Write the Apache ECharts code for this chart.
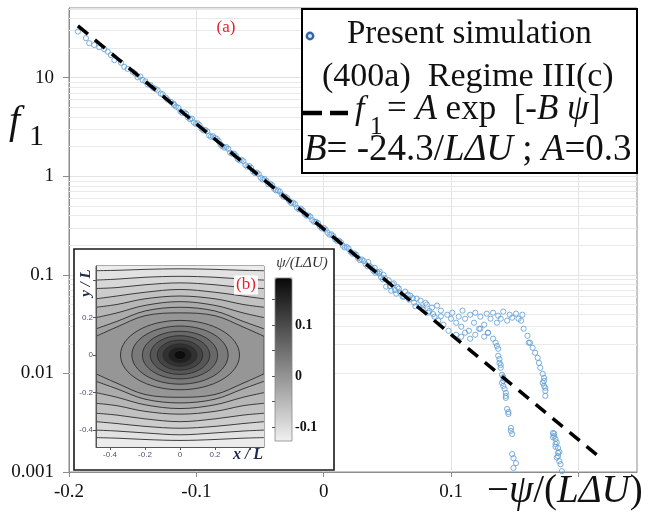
<!DOCTYPE html>
<html><head><meta charset="utf-8">
<script src="https://cdn.jsdelivr.net/npm/echarts@6/dist/echarts.min.js"></script>
<style>html,body{margin:0;padding:0;background:#fff}#c{width:648px;height:513px}</style>
</head><body><div id="c"></div>
<script>
// ---------------- main panel data ----------------
const xTickValues = [-0.2, -0.1, 0, 0.1, 0.2];
const xLabelValues = [-0.2, -0.1, 0, 0.1];
const fitLine = [[-0.193, 33.6], [0.217, 0.0014]];   // f1 = A exp[-B psi]
const simNearTop = [[-0.193,29.4],[-0.1867,25.2],[-0.1841,22.4],[-0.1802,21.5],[-0.1762,20.4],[-0.1723,19.5],[-0.1696,18.4],[-0.1671,17.0],[-0.1644,15.1],[-0.1592,14.2],[-0.1566,12.9],[-0.154,12.3],[-0.150,11.5],[-0.148,11.0],[-0.1461,10.1],[-0.144,10.3],[-0.1422,9.5],[-0.140,9.2],[-0.1383,8.6],[-0.136,8.4],[-0.134,7.9],[-0.132,7.7],[-0.1304,7.5],[-0.128,6.9],[-0.1265,6.8],[-0.124,6.3],[-0.1226,6.0],[-0.120,5.7],[-0.118,5.45],[-0.1174,5.3],[-0.116,5.1]];
const simBodyA = [[-0.114,4.95],[-0.111,4.40],[-0.108,4.30],[-0.105,3.80],[-0.102,3.52],[-0.099,3.45],[-0.096,3.05],[-0.093,2.95],[-0.090,2.60],[-0.087,2.55],[-0.084,2.40],[-0.081,2.10],[-0.078,1.95],[-0.075,1.90],[-0.072,1.70],[-0.069,1.62],[-0.066,1.45],[-0.063,1.42],[-0.060,1.25],[-0.057,1.22],[-0.054,1.08],[-0.051,1.05],[-0.048,0.93],[-0.045,0.90],[-0.042,0.84],[-0.039,0.75],[-0.036,0.72],[-0.033,0.65],[-0.030,0.62],[-0.027,0.56],[-0.024,0.54],[-0.021,0.48],[-0.018,0.47],[-0.015,0.415],[-0.012,0.40],[-0.009,0.36],[-0.006,0.345],[-0.003,0.31],[0.000,0.30],[0.003,0.268],[0.006,0.258],[0.009,0.230],[0.012,0.222],[0.015,0.198],[0.018,0.192],[0.021,0.172],[0.024,0.165],[0.027,0.148],[0.030,0.143],[0.033,0.128],[0.036,0.123],[0.039,0.110],[0.042,0.107],[0.045,0.095],[0.048,0.092]];
const simBodyB = [[-0.1125,4.55],[-0.1095,4.45],[-0.1065,3.95],[-0.1035,3.85],[-0.1005,3.40],[-0.0975,3.30],[-0.0945,2.92],[-0.0915,2.85],[-0.0885,2.52],[-0.0855,2.45],[-0.0825,2.28],[-0.0795,2.02],[-0.0765,1.98],[-0.0735,1.74],[-0.0705,1.70],[-0.0675,1.50],[-0.0645,1.47],[-0.0615,1.30],[-0.0585,1.27],[-0.0555,1.12],[-0.0525,1.09],[-0.0495,0.97],[-0.0465,0.94],[-0.0435,0.83],[-0.0405,0.81],[-0.0375,0.72],[-0.0345,0.70],[-0.0315,0.62],[-0.0285,0.60],[-0.0255,0.535],[-0.0225,0.52],[-0.0195,0.462],[-0.0165,0.45],[-0.0135,0.40],[-0.0105,0.39],[-0.0075,0.345],[-0.0045,0.335],[-0.0015,0.296],[0.0015,0.288],[0.0045,0.256],[0.0075,0.248],[0.0105,0.221],[0.0135,0.214],[0.0165,0.190],[0.0195,0.185],[0.0225,0.164],[0.0255,0.160],[0.0285,0.141],[0.0315,0.138],[0.0345,0.122],[0.0375,0.119],[0.0405,0.105],[0.0435,0.103],[0.0465,0.090]];
const simTransition = [[0.035,0.135],[0.040,0.118],[0.044,0.108],[0.047,0.100],[0.051,0.088],[0.055,0.082],[0.058,0.075],[0.052,0.077],[0.056,0.070],[0.060,0.066],[0.063,0.060],[0.066,0.063],[0.070,0.058],[0.072,0.048],[0.077,0.046],[0.080,0.052],[0.083,0.043],[0.086,0.040],[0.092,0.038],[0.049,0.076],[0.053,0.069],[0.054,0.080],[0.057,0.0645],[0.059,0.0726],[0.062,0.0601],[0.064,0.0676],[0.067,0.0561],[0.068,0.0615],[0.071,0.0523],[0.073,0.0574],[0.075,0.0476],[0.076,0.0548],[0.078,0.0444],[0.081,0.0499],[0.082,0.0413],[0.085,0.0465],[0.087,0.0377],[0.089,0.0488],[0.090,0.0343],[0.092,0.0434],[0.094,0.0312],[0.097,0.0394],[0.098,0.0271]];
const simPlateauUpper = [[0.100,0.0359],[0.101,0.0413],[0.104,0.0327],[0.106,0.0377],[0.108,0.0298],[0.109,0.0434],[0.111,0.0359],[0.114,0.0271],[0.115,0.0394],[0.118,0.0327],[0.119,0.0413],[0.122,0.0284],[0.123,0.0377],[0.126,0.0312],[0.128,0.0404],[0.129,0.0259],[0.131,0.0359],[0.133,0.0413],[0.136,0.0327],[0.137,0.0385],[0.139,0.0359],[0.141,0.0424],[0.144,0.0343],[0.146,0.0394],[0.148,0.0368],[0.151,0.0404],[0.153,0.0359],[0.155,0.0343],[0.156,0.0394]];
const simPlateauLower = [[0.104,0.0247],[0.108,0.0236],[0.111,0.0259],[0.115,0.0225],[0.119,0.0247],[0.123,0.0284],[0.126,0.0236],[0.129,0.0259],[0.133,0.0225],[0.135,0.0205]];
const simBranchLeft = [[0.136,0.019],[0.137,0.0178],[0.137,0.0151],[0.138,0.0140],[0.138,0.0128],[0.139,0.0122],[0.139,0.0114],[0.140,0.00968],[0.141,0.0092],[0.141,0.00841],[0.140,0.00802],[0.141,0.00748],[0.142,0.00698],[0.143,0.00635],[0.143,0.00592],[0.143,0.00565],[0.144,0.00436],[0.145,0.00406],[0.145,0.00388],[0.147,0.00280],[0.147,0.00261],[0.148,0.00243],[0.148,0.00152],[0.149,0.00138],[0.151,0.00123],[0.149,0.00110]];
const simBranchRight = [[0.157,0.0284],[0.160,0.0241],[0.161,0.0205],[0.162,0.0205],[0.164,0.0182],[0.166,0.0162],[0.168,0.0144],[0.169,0.0128],[0.170,0.0114],[0.172,0.00991],[0.173,0.00902],[0.173,0.00841],[0.172,0.00802],[0.173,0.00748],[0.174,0.00714],[0.174,0.00665],[0.174,0.00592],[0.180,0.00249],[0.181,0.00232],[0.182,0.00216],[0.182,0.00192],[0.184,0.00175],[0.184,0.00156],[0.184,0.00145],[0.185,0.00129],[0.186,0.00120],[0.187,0.00102],[0.181,0.00245],[0.180,0.00225],[0.183,0.0020],[0.182,0.0018],[0.185,0.0016],[0.183,0.0014]];

// ---------------- inset (b) data ----------------
const insetXs = [-0.48, -0.36, -0.2, 0, 0.2, 0.36, 0.48];
const openTop = [
  [0.10,0.15,0.21,0.225,0.21,0.15,0.10],
  [0.14,0.18,0.235,0.255,0.235,0.18,0.14],
  [0.20,0.225,0.265,0.285,0.265,0.225,0.20],
  [0.255,0.27,0.30,0.315,0.30,0.27,0.255],
  [0.30,0.315,0.335,0.35,0.335,0.315,0.30],
  [0.355,0.36,0.375,0.385,0.375,0.36,0.355],
  [0.40,0.405,0.415,0.42,0.415,0.405,0.40],
  [0.45,0.452,0.457,0.46,0.457,0.452,0.45]
];
const openTopPsi = [-0.01,-0.025,-0.04,-0.055,-0.07,-0.085,-0.10,-0.115];
const openBottom = [
  [-0.10,-0.15,-0.21,-0.225,-0.21,-0.15,-0.10],
  [-0.14,-0.18,-0.235,-0.255,-0.235,-0.18,-0.14],
  [-0.20,-0.225,-0.265,-0.285,-0.265,-0.225,-0.20],
  [-0.257,-0.27,-0.30,-0.315,-0.30,-0.27,-0.257],
  [-0.31,-0.32,-0.34,-0.355,-0.34,-0.32,-0.31],
  [-0.355,-0.365,-0.38,-0.39,-0.38,-0.365,-0.355],
  [-0.40,-0.405,-0.415,-0.425,-0.415,-0.405,-0.40],
  [-0.44,-0.443,-0.45,-0.455,-0.45,-0.443,-0.44]
];
const openBottomPsi = [-0.01,-0.025,-0.04,-0.055,-0.07,-0.085,-0.10,-0.115];
// closed contours of the eye: cx, cy, rx, ry, psi
const eyeContours = [
  [0,0,0.34,0.185,0.01],
  [0,0,0.275,0.155,0.035],
  [0,0,0.215,0.127,0.06],
  [0,0,0.17,0.103,0.085],
  [0,0,0.13,0.08,0.11],
  [0,0,0.097,0.06,0.135],
  [0,0,0.066,0.042,0.16],
  [0,0,0.035,0.024,0.185]
];
const insetLabelValues = [-0.4, -0.2, 0, 0.2];
const insetTickValues = [-0.4, -0.2, 0, 0.2, 0.4];
const psiRange = [-0.127, 0.192];
const colorbarLabels = [-0.1, 0, 0.1];
const colorbarTicks = [-0.1, -0.05, 0, 0.05, 0.1, 0.15];

// ---------------- rendering ----------------
const serif = '"Liberation Serif", "Times New Roman", serif';
const grayLight = 240, grayDark = 8;
function grayFor(psi) {
  const t = Math.max(0, Math.min(1, (psi - psiRange[0]) / (psiRange[1] - psiRange[0])));
  const g = Math.round(grayLight - (grayLight - grayDark) * t);
  return 'rgb(' + g + ',' + g + ',' + g + ')';
}
const minorVals = [];
[0.001, 0.01, 0.1, 1, 10].forEach(d => { for (let k = 2; k <= 9; k++) { const v = +(d * k).toPrecision(3); if (v <= 51) minorVals.push(v); } });

const simAll = [].concat(simNearTop, simBodyA, simBodyB, simTransition, simPlateauUpper, simPlateauLower, simBranchLeft, simBranchRight);

const series = [];
series.push({ type: 'line', xAxisIndex: 0, yAxisIndex: 0, data: [], z: 1, silent: true,
  markLine: { silent: true, z: 1, symbol: 'none', animation: false, label: { show: false },
    lineStyle: { color: '#e9e9e9', width: 1, type: 'solid' },
    data: minorVals.map(v => ({ yAxis: v })) } });
series.push({ type: 'scatter', xAxisIndex: 0, yAxisIndex: 0, data: simAll, symbol: 'circle', symbolSize: 5.2, z: 2,
  itemStyle: { color: 'rgba(255,255,255,0)', borderColor: '#5b9bd5', borderWidth: 1 } });
series.push({ type: 'line', xAxisIndex: 0, yAxisIndex: 0, data: fitLine, symbol: 'none', z: 3,
  lineStyle: { color: '#000', width: 3.5, type: [13, 9], cap: 'butt' } });

openTop.forEach((ys, i) => {
  const next = i + 1 < openTopPsi.length ? openTopPsi[i + 1] : psiRange[0];
  series.push({ type: 'line', xAxisIndex: 1, yAxisIndex: 1, smooth: 0.35, symbol: 'none', z: 4 + i * 0.01,
    data: insetXs.map((x, j) => [x, ys[j]]),
    lineStyle: { color: '#2b2b2b', width: 0.9 },
    areaStyle: { origin: 'end', color: grayFor((openTopPsi[i] + next) / 2), opacity: 1 } });
});
openBottom.forEach((ys, i) => {
  const next = i + 1 < openBottomPsi.length ? openBottomPsi[i + 1] : psiRange[0];
  series.push({ type: 'line', xAxisIndex: 1, yAxisIndex: 1, smooth: 0.35, symbol: 'none', z: 4 + i * 0.01,
    data: insetXs.map((x, j) => [x, ys[j]]),
    lineStyle: { color: '#2b2b2b', width: 0.9 },
    areaStyle: { origin: 'start', color: grayFor((openBottomPsi[i] + next) / 2), opacity: 1 } });
});
const eyeIndex = series.length;
series.push({ type: 'custom', xAxisIndex: 1, yAxisIndex: 1, z: 5, clip: true,
  dimensions: ['cx', 'cy', 'rx', 'ry', 'psi'], encode: { x: 0, y: 1 },
  data: eyeContours,
  renderItem: function (params, api) {
    const c = api.coord([api.value(0), api.value(1)]);
    const s = api.size([api.value(2), api.value(3)]);
    return { type: 'ellipse', shape: { cx: c[0], cy: c[1], rx: s[0], ry: s[1] },
      style: { fill: api.visual('color'), stroke: '#2b2b2b', lineWidth: 0.9 } };
  } });

const insetLabel = { fontSize: 8, color: '#4b5270', fontFamily: 'Liberation Sans, Arial, sans-serif' };
function txt(x, y, text, font, fill, extra) {
  return Object.assign({ type: 'text', z: 12, x: x, y: y, style: { text: text, font: font, fill: fill || '#111', verticalAlign: 'middle', textVerticalAlign: 'middle' } }, extra || {});
}
const richR = s => ({ fontFamily: serif, fontSize: s, fill: '#111', color: '#111' });
const richI = s => ({ fontFamily: serif, fontStyle: 'italic', fontSize: s, fill: '#111', color: '#111' });

const option = {
  animation: false,
  backgroundColor: '#ffffff',
  grid: [
    { left: 69, top: 8, width: 568, height: 464, show: true, borderColor: '#8c8c8c', borderWidth: 1, backgroundColor: 'transparent', containLabel: false, outerBoundsMode: 'none', z: 0 },
    { left: 96, top: 266, width: 168, height: 181, show: true, borderColor: '#555', borderWidth: 1, backgroundColor: grayFor(-0.003), containLabel: false, outerBoundsMode: 'none', z: 3 },
    { left: 275, top: 278, width: 17, height: 163, show: true, borderColor: '#888', borderWidth: 0.8, backgroundColor: 'transparent', containLabel: false, outerBoundsMode: 'none', z: 8 }
  ],
  xAxis: [
    { gridIndex: 0, type: 'value', min: -0.2, max: 0.246, interval: 0.1, z: 0,
      axisLine: { show: true, onZero: false, lineStyle: { color: '#8c8c8c', width: 1 } },
      axisTick: { show: true, length: 5, customValues: xTickValues, lineStyle: { color: '#8c8c8c' } },
      axisLabel: { customValues: xLabelValues, margin: 11, fontFamily: serif, fontSize: 19, color: '#111',
        formatter: v => String(+(+v).toFixed(2)) },
      splitLine: { show: true, lineStyle: { color: '#e3e3e3', width: 1 } } },
    { gridIndex: 1, type: 'value', min: -0.48, max: 0.48, z: 6,
      axisLine: { show: true, onZero: false, lineStyle: { color: '#555', width: 1 } },
      axisTick: { show: true, length: 3, customValues: insetTickValues, lineStyle: { color: '#555' } },
      axisLabel: Object.assign({ customValues: insetLabelValues, margin: 4 }, insetLabel),
      splitLine: { show: false } },
    { gridIndex: 2, type: 'value', show: false, min: 0, max: 1 }
  ],
  yAxis: [
    { gridIndex: 0, type: 'log', logBase: 10, min: 0.001, max: 51, z: 0,
      axisLine: { show: true, onZero: false, lineStyle: { color: '#8c8c8c', width: 1 } },
      axisTick: { show: true, length: 6, lineStyle: { color: '#8c8c8c' } },
      axisLabel: { showMaxLabel: false, margin: 15, fontFamily: serif, fontSize: 19, color: '#111',
        formatter: v => (v > 20 ? '' : String(+(+v).toPrecision(2))) },
      splitLine: { show: true, lineStyle: { color: '#e3e3e3', width: 1 } } },
    { gridIndex: 1, type: 'value', min: -0.49, max: 0.475, z: 6,
      axisLine: { show: true, onZero: false, lineStyle: { color: '#555', width: 1 } },
      axisTick: { show: true, length: 3, customValues: insetTickValues, lineStyle: { color: '#555' } },
      axisLabel: Object.assign({ customValues: insetLabelValues, margin: 3 }, insetLabel),
      splitLine: { show: false } },
    { gridIndex: 2, type: 'value', position: 'right', min: psiRange[0], max: psiRange[1], z: 9,
      axisLine: { show: false },
      axisTick: { show: true, inside: true, length: 3, customValues: colorbarTicks, lineStyle: { color: '#555' } },
      axisLabel: { customValues: colorbarLabels, margin: 3, fontFamily: serif, fontWeight: 'bold', fontSize: 14, color: '#111',
        formatter: v => String(+(+v).toFixed(2)) },
      splitLine: { show: false } }
  ],
  visualMap: [{ type: 'continuous', seriesIndex: eyeIndex, dimension: 4, min: psiRange[0], max: psiRange[1],
    inRange: { color: ['rgb(240,240,240)', 'rgb(8,8,8)'] }, calculable: false, hoverLink: false,
    left: 275, top: 278, itemWidth: 17, itemHeight: 163, padding: 0, text: null, showLabel: false, z: 7 }],
  graphic: { elements: [
    // inset frame and its texts
    { type: 'rect', z: 2, shape: { x: 74, y: 249, width: 260, height: 221 }, style: { fill: '#fff', stroke: '#1a1a1a', lineWidth: 1.6 } },
    { type: 'text', z: 12, x: 246, y: 285, style: { text: '(b)', font: '17px ' + serif, fill: '#e52329', align: 'center', verticalAlign: 'middle', textAlign: 'center', textVerticalAlign: 'middle', backgroundColor: '#fff', padding: [1, 2] } },
    { type: 'text', z: 12, x: 86, y: 283, rotation: Math.PI / 2, style: { text: 'y / L', font: 'italic bold 15px ' + serif, fill: '#1f2a4d', align: 'center', verticalAlign: 'middle', textAlign: 'center', textVerticalAlign: 'middle' } },
    { type: 'text', z: 12, x: 248, y: 455, style: { text: 'x / L', font: 'italic bold 16px ' + serif, fill: '#1f2a4d', align: 'center', verticalAlign: 'middle', textAlign: 'center', textVerticalAlign: 'middle' } },
    { type: 'text', z: 12, x: 302, y: 263, style: { text: 'ψ/(LΔU)', font: 'italic 15px ' + serif, fill: '#333', align: 'center', verticalAlign: 'middle', textAlign: 'center', textVerticalAlign: 'middle' } },
    // panel label and axis titles
    { type: 'text', z: 12, x: 226, y: 28, style: { text: '(a)', font: '17px ' + serif, fill: '#e52329', align: 'center', verticalAlign: 'middle', textAlign: 'center', textVerticalAlign: 'middle' } },
    txt(9, 122, 'f', 'italic 40px ' + serif),
    txt(29, 137, '1', '30px ' + serif),
    { type: 'text', z: 12, x: 487, y: 492, style: { text: '{r|−}{i|ψ}{r|/(}{i|LΔU}{r|)}', verticalAlign: 'middle', textVerticalAlign: 'middle',
      rich: { r: richR(39), i: richI(39) } } },
    // legend box
    { type: 'rect', z: 20, shape: { x: 302, y: 9, width: 335, height: 164 }, style: { fill: '#fff', stroke: '#000', lineWidth: 2 } },
    { type: 'circle', z: 21, shape: { cx: 310, cy: 36, r: 3.2 }, style: { fill: '#dce9f6', stroke: '#2f66a8', lineWidth: 2.4 } },
    Object.assign(txt(347, 34, 'Present simulation', '33px ' + serif), { z: 21 }),
    Object.assign(txt(322, 77, '(400a)  Regime III(c)', '34px ' + serif), { z: 21 }),
    { type: 'line', z: 21, shape: { x1: 303, y1: 113, x2: 322, y2: 113 }, style: { stroke: '#000', lineWidth: 4.5 } },
    { type: 'line', z: 21, shape: { x1: 330, y1: 113, x2: 348, y2: 113 }, style: { stroke: '#000', lineWidth: 4.5 } },
    Object.assign(txt(355, 110, 'f', 'italic 34px ' + serif), { z: 21 }),
    Object.assign(txt(370, 127, '1', '25px ' + serif), { z: 21 }),
    { type: 'text', z: 21, x: 387, y: 110, style: { text: '{r|= }{i|A}{r| exp  [-}{i|B ψ}{r|]}', verticalAlign: 'middle', textVerticalAlign: 'middle',
      rich: { r: richR(35), i: richI(35) } } },
    { type: 'text', z: 21, x: 304, y: 150, style: { text: '{i|B}{r|= -24.3/}{i|LΔU}{r| ; }{i|A}{r|=0.3}', verticalAlign: 'middle', textVerticalAlign: 'middle',
      rich: { r: richR(37), i: richI(37) } } }
  ] },
  series: series
};
const chart = echarts.init(document.getElementById('c'));
chart.setOption(option);
</script>
</body></html>
